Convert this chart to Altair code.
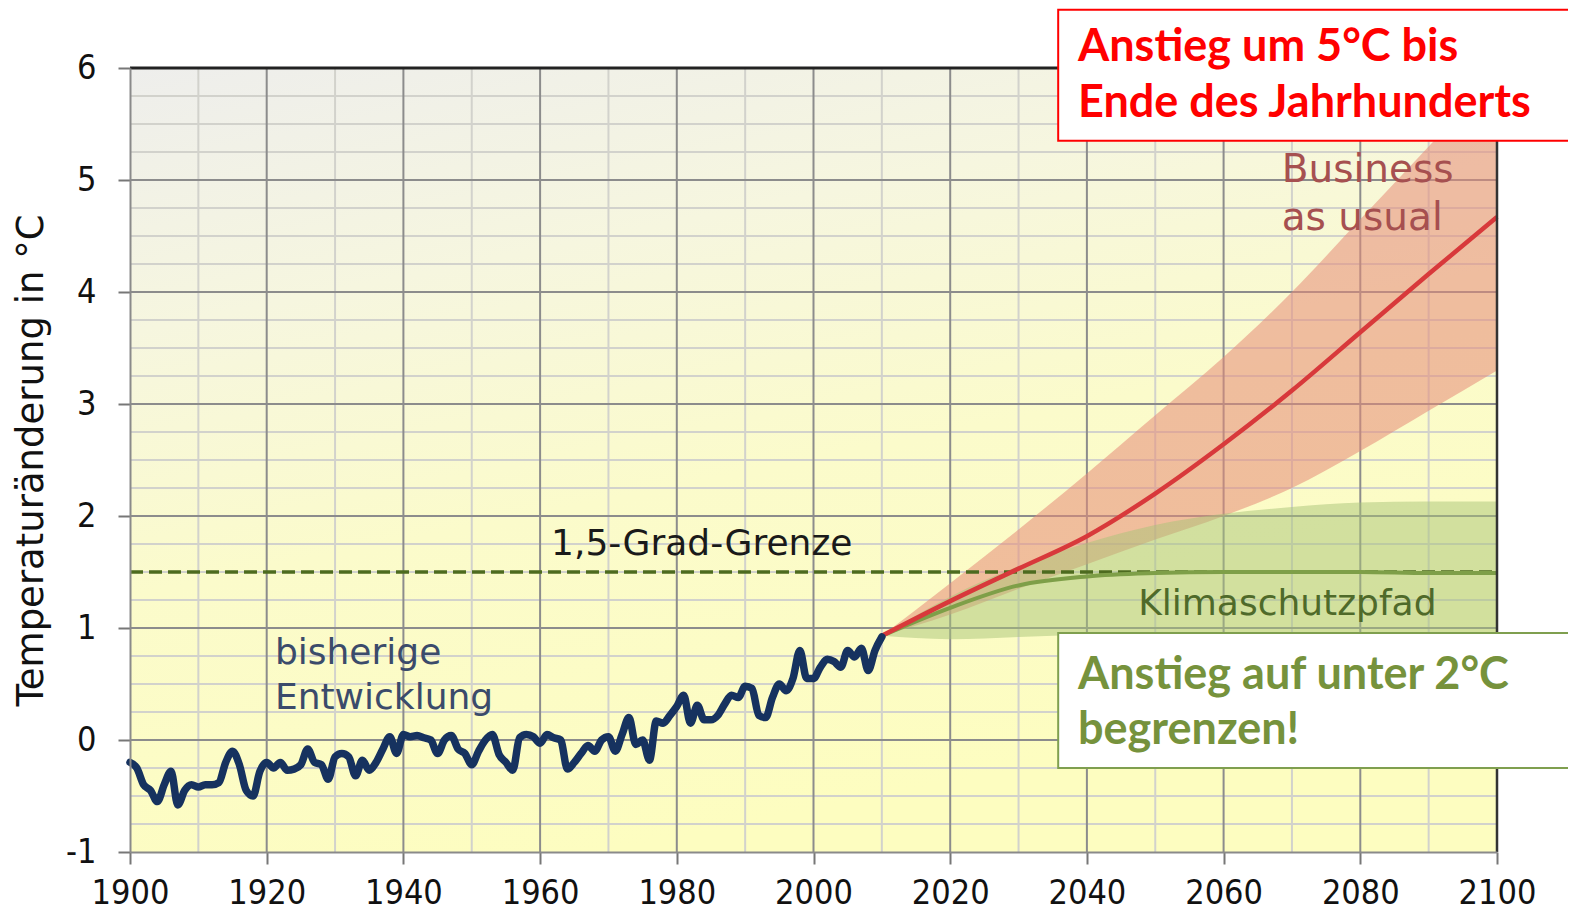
import altair as alt
import pandas as pd

# ---------------- data ----------------
hist_years = list(range(1900, 2011))
hist_temp = [
    -0.20, -0.25, -0.40, -0.45, -0.55, -0.40, -0.28, -0.58, -0.45, -0.40,
    -0.42, -0.40, -0.40, -0.38, -0.20, -0.10, -0.22, -0.45, -0.50, -0.28,
    -0.20, -0.25, -0.20, -0.27, -0.26, -0.22, -0.08, -0.20, -0.22, -0.35,
    -0.15, -0.12, -0.15, -0.32, -0.18, -0.27, -0.20, -0.08, 0.03, -0.12,
    0.05, 0.03, 0.04, 0.02, 0.00, -0.12, 0.00, 0.04, -0.08, -0.12,
    -0.22, -0.10, 0.00, 0.05, -0.13, -0.20, -0.27, 0.02, 0.05, 0.03,
    -0.03, 0.05, 0.02, 0.00, -0.26, -0.20, -0.12, -0.05, -0.10, 0.00,
    0.03, -0.10, 0.05, 0.20, -0.04, 0.00, -0.18, 0.17, 0.15, 0.22,
    0.30, 0.40, 0.15, 0.31, 0.18, 0.18, 0.22, 0.32, 0.40, 0.38,
    0.48, 0.46, 0.22, 0.20, 0.38, 0.50, 0.44, 0.55, 0.80, 0.55,
    0.55, 0.65, 0.72, 0.70, 0.65, 0.80, 0.74, 0.82, 0.62, 0.80,
    0.92,
]

proj_years = [2010, 2020, 2030, 2040, 2050, 2060, 2070, 2080, 2090, 2100]
bau_mid = [0.93, 1.24, 1.53, 1.82, 2.20, 2.64, 3.12, 3.64, 4.16, 4.67]
bau_hi = [0.93, 1.40, 1.88, 2.38, 2.90, 3.42, 4.00, 4.65, 5.30, 5.95]
bau_lo = [0.93, 1.12, 1.35, 1.57, 1.79, 2.00, 2.25, 2.58, 2.94, 3.30]
klima_mid = [0.93, 1.18, 1.38, 1.46, 1.49, 1.50, 1.50, 1.50, 1.49, 1.49]
klima_hi = [0.93, 1.28, 1.55, 1.76, 1.92, 2.02, 2.08, 2.12, 2.13, 2.13]
klima_lo = [0.93, 0.90, 0.92, 0.94, 0.95, 0.95, 0.95, 0.95, 0.95, 0.95]

limit_years = [1900, 2100]
limit_value = [1.5, 1.5]

x_ticks = [1900, 1920, 1940, 1960, 1980, 2000, 2020, 2040, 2060, 2080, 2100]
y_ticks = [-1, 0, 1, 2, 3, 4, 5, 6]
grid_x_minor = [1910, 1930, 1950, 1970, 1990, 2010, 2030, 2050, 2070, 2090]
grid_x_major = [1920, 1940, 1960, 1980, 2000, 2020, 2040, 2060, 2080]
grid_y_minor = [v / 4 for v in range(-3, 24) if v % 4 != 0]
grid_y_major = [0, 1, 2, 3, 4, 5]

# annotation texts
lbl_limit = ["1,5-Grad-Grenze"]
lbl_hist = ["bisherige", "Entwicklung"]
lbl_klima = ["Klimaschutzpfad"]
lbl_bau = ["Business", "as usual"]
box_red_text = ["Anstieg um 5°C bis", "Ende des Jahrhunderts"]
box_green_text = ["Anstieg auf unter 2°C", "begrenzen!"]

# ---------------- chart ----------------
FONT = "DejaVu Sans"
TICKFONT = "'DejaVu Sans Condensed', 'DejaVu Sans'"
xs = alt.Scale(domain=[1900, 2100], nice=False, zero=False)
ys = alt.Scale(domain=[-1, 6], nice=False, zero=False)

x_axis = alt.Axis(values=x_ticks, labelExpr="'' + datum.value", grid=False, labelFont=TICKFONT,
                  labelFontSize=34, labelColor="#111111", tickSize=12, tickColor="#777777",
                  tickWidth=2, domainColor="#8a8a8a", domainWidth=2, labelPadding=12, zindex=1,
                  labelFlush=False, title="")
y_axis = alt.Axis(values=y_ticks, labelExpr="'' + datum.value", grid=False, labelFont=TICKFONT,
                  labelFontSize=34, labelColor="#111111", tickSize=12, tickColor="#777777",
                  tickWidth=2, domainColor="#8a8a8a", domainWidth=2, labelPadding=22, zindex=1,
                  title="Temperaturänderung in °C", titleFont=FONT, titleFontSize=37,
                  titleFontWeight="normal", titleColor="#111111", titleX=-88,
                  titleBaseline="alphabetic", labelFlush=False)


def X(field):
    return alt.X(field, scale=xs, axis=x_axis)


def Y(field):
    return alt.Y(field, scale=ys, axis=y_axis)


bg_df = pd.DataFrame({"x": [1900], "x2": [2100], "y": [-1], "y2": [6]})
background = alt.Chart(bg_df).mark_rect(
    color=alt.LinearGradient(
        gradient="linear", x1=0, y1=0, x2=0.35, y2=1,
        stops=[alt.GradientStop(color="#eeeeec", offset=0),
               alt.GradientStop(color="#f6f6df", offset=0.3),
               alt.GradientStop(color="#fbfbcb", offset=0.6),
               alt.GradientStop(color="#fdfdc0", offset=1)])
).encode(x=X("x:Q"), x2="x2:Q", y=Y("y:Q"), y2="y2:Q")


def vrules(vals, color, width):
    return alt.Chart(pd.DataFrame({"x": vals})).mark_rule(color=color, strokeWidth=width).encode(
        x=X("x:Q"))


def hrules(vals, color, width):
    return alt.Chart(pd.DataFrame({"y": vals})).mark_rule(color=color, strokeWidth=width).encode(
        y=Y("y:Q"))


g1 = vrules(grid_x_minor, "#d2d2cc", 2)
g2 = hrules(grid_y_minor, "#d2d2cc", 2)
g3 = vrules(grid_x_major, "#8c8c8c", 2)
g4 = hrules(grid_y_major, "#8c8c8c", 2)

proj_df = pd.DataFrame({"year": proj_years, "bau": bau_mid, "bau_hi": bau_hi, "bau_lo": bau_lo,
                        "kl": klima_mid, "kl_hi": klima_hi, "kl_lo": klima_lo})

band_bau = alt.Chart(proj_df).mark_area(color="#e58a78", opacity=0.55, interpolate="monotone").encode(
    x=X("year:Q"), y=Y("bau_lo:Q"), y2="bau_hi:Q")
band_kl = alt.Chart(proj_df).mark_area(color="#a8c478", opacity=0.5, interpolate="monotone").encode(
    x=X("year:Q"), y=Y("kl_lo:Q"), y2="kl_hi:Q")

line_kl = alt.Chart(proj_df).mark_line(color="#7e9f48", strokeWidth=4, interpolate="monotone").encode(
    x=X("year:Q"), y=Y("kl:Q"))
line_bau = alt.Chart(proj_df).mark_line(color="#d8393b", strokeWidth=4.5, interpolate="monotone").encode(
    x=X("year:Q"), y=Y("bau:Q"))

limit = alt.Chart(pd.DataFrame({"year": limit_years, "v": limit_value})).mark_line(
    color="#4d6b1f", strokeWidth=3.5, strokeDash=[13, 6]).encode(
    x=X("year:Q"), y=Y("v:Q"))

hist = alt.Chart(pd.DataFrame({"year": hist_years, "t": hist_temp})).mark_line(
    color="#16325f", strokeWidth=7.5, interpolate="monotone", strokeJoin="round", strokeCap="round").encode(
    x=X("year:Q"), y=Y("t:Q"))

top_border = alt.Chart(pd.DataFrame({"y": [6]})).mark_rule(color="#222222", strokeWidth=3).encode(
    y=Y("y:Q"))
right_border = alt.Chart(pd.DataFrame({"x": [2100]})).mark_rule(color="#333333", strokeWidth=2.5).encode(
    x=X("x:Q"))


def text_layer(lines, x0, ys_, color, size, weight="normal", font=FONT):
    df = pd.DataFrame({"x": [x0] * len(lines), "y": ys_, "t": lines})
    return alt.Chart(df).mark_text(align="left", baseline="middle", color=color, fontSize=size,
                                   font=font, fontWeight=weight).encode(
        x=X("x:Q"), y=Y("y:Q"), text="t:N")


t_limit = text_layer(lbl_limit, 1961.6, [1.75], "#1a1a1a", 36)
t_hist = text_layer(lbl_hist, 1921.2, [0.78, 0.375], "#3b4b6b", 36)
t_klima = text_layer(lbl_klima, 2047.5, [1.21], "#4f6a2a", 36)
t_bau = text_layer(lbl_bau, 2068.5, [5.09, 4.66], "#a65050", 39)

box_df_red = pd.DataFrame({"x": [2035.8], "x2": [2116], "y": [6.52], "y2": [5.35]})
box_red = alt.Chart(box_df_red).mark_rect(fill="white", stroke="#ff0000", strokeWidth=2).encode(
    x=X("x:Q"), x2="x2:Q", y=Y("y:Q"), y2="y2:Q")
box_df_green = pd.DataFrame({"x": [2035.8], "x2": [2116], "y": [0.955], "y2": [-0.25]})
box_green = alt.Chart(box_df_green).mark_rect(fill="white", stroke="#7f9f4f", strokeWidth=2).encode(
    x=X("x:Q"), x2="x2:Q", y=Y("y:Q"), y2="y2:Q")

t_red = text_layer(box_red_text, 2038.7, [6.19, 5.69], "#ff0000", 45, "bold", "Lato")
t_green = text_layer(box_green_text, 2038.7, [0.58, 0.09], "#76923c", 45, "bold", "Lato")

chart = alt.layer(
    background, g1, g2, g3, g4, band_bau, band_kl, limit, line_kl, line_bau, hist,
    top_border, right_border, t_limit, t_hist, t_klima, t_bau,
    box_red, box_green, t_red, t_green,
).properties(
    width=1367, height=784,
    autosize=alt.AutoSizeParams(type="none"),
    padding={"left": 122, "top": 60, "right": 71, "bottom": 59},
    background="white",
).configure_view(strokeWidth=0)

chart.save("out.html", embed_options={"renderer": "svg", "actions": False})
